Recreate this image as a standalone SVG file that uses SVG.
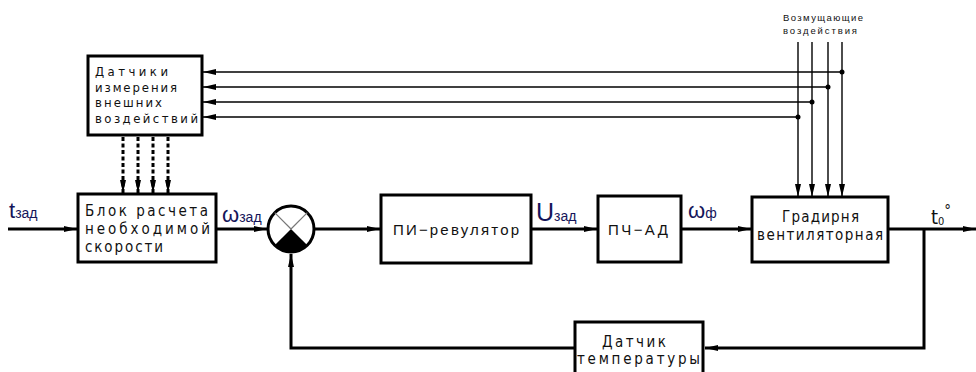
<svg xmlns="http://www.w3.org/2000/svg" width="976" height="372" viewBox="0 0 976 372">
  <style>
    .box { fill: #ffffff; stroke: #000000; stroke-width: 3; }
    .thick { fill: none; stroke: #000000; stroke-width: 3; }
    .thin { fill: none; stroke: #000000; stroke-width: 1.4; }
    .dash { fill: none; stroke: #000000; stroke-width: 3; stroke-dasharray: 4 2.5; }
    .gost { font-family: "DejaVu Sans Condensed", "DejaVu Sans", sans-serif; font-stretch: condensed; font-size: 15px; fill: #111111; }
    .gost-s { font-family: "DejaVu Sans Condensed", "DejaVu Sans", sans-serif; font-stretch: condensed; font-size: 13px; fill: #111111; }
    .plain { font-family: "Liberation Sans", Arial, sans-serif; font-size: 15px; fill: #111111; }
    .sym { font-family: "Liberation Sans", Arial, sans-serif; fill: #15155a; }
    .small { font-family: "Liberation Sans", Arial, sans-serif; font-size: 9.5px; fill: #111111; }
  </style>
  <defs>
    <marker id="ah" markerWidth="14" markerHeight="8" refX="13" refY="4" orient="auto" markerUnits="userSpaceOnUse">
      <path d="M0,1 L13,4 L0,7 Z" fill="#000000"/>
    </marker>
  </defs>

  <rect width="976" height="372" fill="#ffffff"/>

  <!-- connectors -->
  <g id="connectors">
    <!-- disturbance inputs into the cooling tower -->
    <line class="thin" x1="798" y1="42" x2="798" y2="197" marker-end="url(#ah)"/>
    <line class="thin" x1="812" y1="42" x2="812" y2="197" marker-end="url(#ah)"/>
    <line class="thin" x1="828" y1="42" x2="828" y2="197" marker-end="url(#ah)"/>
    <line class="thin" x1="842" y1="42" x2="842" y2="197" marker-end="url(#ah)"/>
    <!-- taps to the sensors block -->
    <line class="thin" x1="842" y1="72" x2="203" y2="72" marker-end="url(#ah)"/>
    <line class="thin" x1="828" y1="87" x2="203" y2="87" marker-end="url(#ah)"/>
    <line class="thin" x1="812" y1="102" x2="203" y2="102" marker-end="url(#ah)"/>
    <line class="thin" x1="798" y1="117" x2="203" y2="117" marker-end="url(#ah)"/>
    <circle cx="842" cy="72" r="2.5" fill="#000000"/>
    <circle cx="828" cy="87" r="2.5" fill="#000000"/>
    <circle cx="812" cy="102" r="2.5" fill="#000000"/>
    <circle cx="798" cy="117" r="2.5" fill="#000000"/>
    <!-- sensors to speed block -->
    <line class="dash" x1="123" y1="137" x2="123" y2="193" marker-end="url(#ah)"/>
    <line class="dash" x1="138" y1="137" x2="138" y2="193" marker-end="url(#ah)"/>
    <line class="dash" x1="153" y1="137" x2="153" y2="193" marker-end="url(#ah)"/>
    <line class="dash" x1="168" y1="137" x2="168" y2="193" marker-end="url(#ah)"/>
    <!-- main forward path -->
    <line class="thick" x1="8" y1="229" x2="77" y2="229" marker-end="url(#ah)"/>
    <line class="thick" x1="216" y1="229" x2="267" y2="229" marker-end="url(#ah)"/>
    <line class="thick" x1="314" y1="229" x2="380" y2="229" marker-end="url(#ah)"/>
    <line class="thick" x1="531" y1="229" x2="597" y2="229" marker-end="url(#ah)"/>
    <line class="thick" x1="681" y1="229" x2="751" y2="229" marker-end="url(#ah)"/>
    <line class="thick" x1="888" y1="229" x2="976" y2="229" marker-end="url(#ah)"/>
    <!-- feedback path -->
    <polyline class="thick" points="924,229 924,348 705,348" marker-end="url(#ah)"/>
    <polyline class="thick" points="575,348 291,348 291,254" marker-end="url(#ah)"/>
  </g>

  <!-- sensors of external influences -->
  <g id="sensors">
    <rect class="box" x="88" y="56" width="114" height="79"/>
    <text class="gost-s" x="95" y="76" textLength="73">Датчики</text>
    <text class="gost-s" x="95" y="92" textLength="82">измерения</text>
    <text class="gost-s" x="95" y="107" textLength="67">внешних</text>
    <text class="gost-s" x="95" y="123" textLength="103">воздействий</text>
  </g>

  <!-- required speed calculation -->
  <g id="speed-calc">
    <rect class="box" x="78" y="194" width="138" height="68"/>
    <text class="gost" x="85" y="216" textLength="123">Блок расчета</text>
    <text class="gost" x="85" y="234" textLength="125">необходимой</text>
    <text class="gost" x="85" y="252" textLength="78">скорости</text>
  </g>

  <!-- summing junction -->
  <g id="summator">
    <circle cx="291" cy="229" r="23" fill="#ffffff" stroke="#000000" stroke-width="3"/>
    <path d="M291,229 L307.3,245.3 A23,23 0 0 1 274.7,245.3 Z" fill="#000000"/>
    <line x1="274.7" y1="212.7" x2="291" y2="229" stroke="#777777" stroke-width="1.2"/>
    <line x1="307.3" y1="212.7" x2="291" y2="229" stroke="#777777" stroke-width="1.2"/>
  </g>

  <!-- PI controller -->
  <g id="pi-controller">
    <rect class="box" x="381" y="195" width="150" height="68"/>
    <text class="plain" x="393" y="235" textLength="126">ПИ−ревулятор</text>
  </g>

  <!-- frequency converter with induction motor -->
  <g id="converter">
    <rect class="box" x="598" y="196" width="83" height="66"/>
    <text class="plain" x="608" y="235" textLength="60">ПЧ−АД</text>
  </g>

  <!-- fan cooling tower -->
  <g id="cooling-tower">
    <rect class="box" x="752" y="197" width="136" height="65"/>
    <text class="gost" x="782" y="222" textLength="77">Градирня</text>
    <text class="gost" x="757" y="240" textLength="126">вентиляторная</text>
  </g>

  <!-- temperature sensor -->
  <g id="temp-sensor">
    <rect class="box" x="575" y="322" width="128" height="56"/>
    <text class="gost" x="602" y="347" textLength="64">Датчик</text>
    <text class="gost" x="577" y="364" textLength="123">температуры</text>
  </g>

  <!-- disturbance caption -->
  <g id="disturbances">
    <text class="small" x="783" y="21" textLength="80">Возмущающие</text>
    <text class="small" x="783" y="34" textLength="74">воздействия</text>
  </g>

  <!-- signal labels -->
  <g id="labels">
    <text class="sym" x="9" y="218"><tspan font-size="22">t</tspan><tspan font-size="14">зад</tspan></text>
    <text class="sym" x="222" y="222"><tspan font-size="22">ω</tspan><tspan font-size="14">зад</tspan></text>
    <text class="sym" x="536" y="221"><tspan font-size="25">U</tspan><tspan font-size="14">зад</tspan></text>
    <text class="sym" x="688" y="218"><tspan font-size="22">ω</tspan><tspan font-size="14">ф</tspan></text>
    <text class="gost" x="931" y="224"><tspan font-size="20">t</tspan><tspan font-size="11" dy="1">0</tspan><tspan font-size="15" dy="-9">°</tspan></text>
  </g>
</svg>
